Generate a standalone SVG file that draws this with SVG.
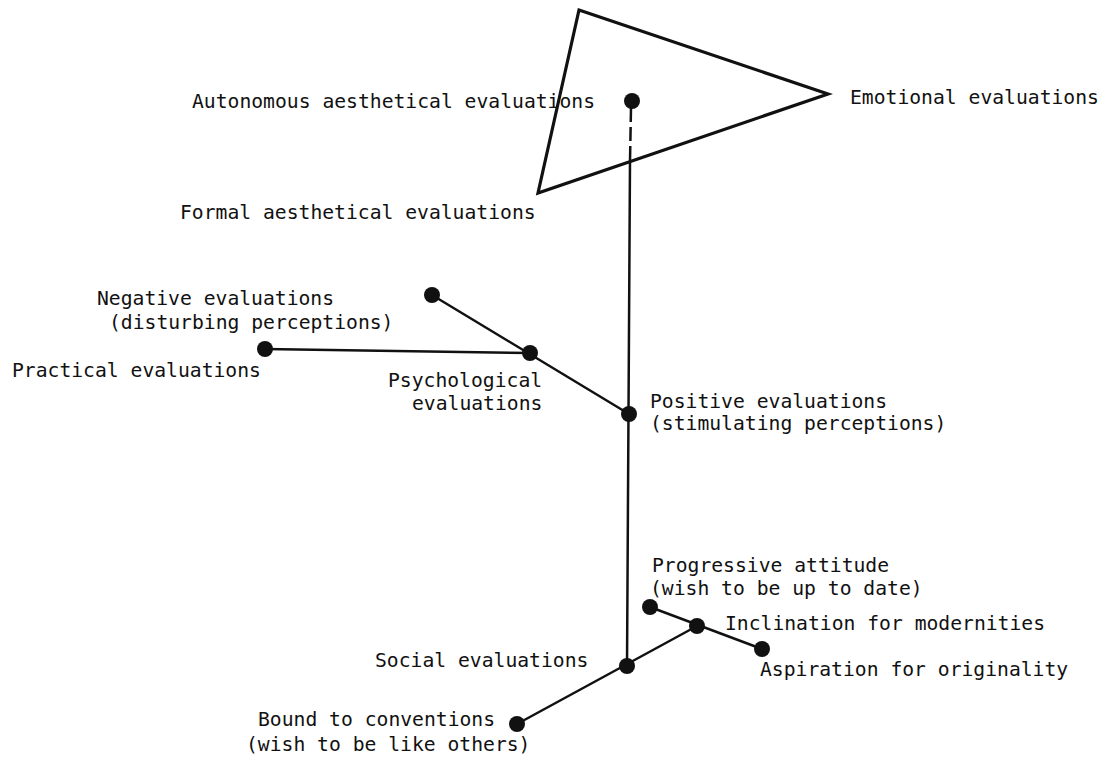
<svg xmlns="http://www.w3.org/2000/svg" width="1113" height="759" viewBox="0 0 1113 759">
  <style>
    text { font-family: "DejaVu Sans Mono", "Liberation Mono", monospace; font-size: 19.7px; fill: #111; }
    .edge { stroke: #111; stroke-width: 2.5; fill: none; stroke-linecap: round; }
    .dash { stroke-dasharray: 14 5; stroke-linecap: butt; }
    .tri { stroke: #111; stroke-width: 3.2; fill: none; stroke-linejoin: miter; }
    .dot { fill: #111; }
  </style>
  <rect width="1113" height="759" fill="#fff"/>

  <!-- triangle of aesthetical evaluations -->
  <g id="triangle">
    <polygon class="tri" points="579,10 828,94 538,193"/>
    <text x="850" y="104">Emotional evaluations</text>
    <text x="180" y="219">Formal aesthetical evaluations</text>
  </g>

  <!-- connectors -->
  <g id="connectors">
    <line class="edge dash" x1="631" y1="108" x2="630" y2="161"/>
    <line class="edge" x1="630" y1="161" x2="627" y2="666"/>
    <line class="edge" x1="432" y1="295" x2="629" y2="414"/>
    <line class="edge" x1="265" y1="349" x2="530" y2="353"/>
    <line class="edge" x1="517" y1="724" x2="697" y2="626"/>
    <line class="edge" x1="650" y1="607" x2="762" y2="649"/>
  </g>

  <g id="autonomous">
    <circle class="dot" cx="632" cy="101" r="8"/>
    <text x="192" y="108">Autonomous aesthetical evaluations</text>
  </g>

  <g id="negative">
    <circle class="dot" cx="432" cy="295" r="8"/>
    <text x="97" y="305">Negative evaluations</text>
    <text x="109" y="329">(disturbing perceptions)</text>
  </g>

  <g id="practical">
    <circle class="dot" cx="265" cy="349" r="8"/>
    <text x="12" y="377">Practical evaluations</text>
  </g>

  <g id="psychological">
    <circle class="dot" cx="530" cy="353" r="8"/>
    <text x="388" y="387">Psychological</text>
    <text x="412" y="410">evaluations</text>
  </g>

  <g id="positive">
    <circle class="dot" cx="629" cy="414" r="8"/>
    <text x="650" y="408">Positive evaluations</text>
    <text x="650" y="430">(stimulating perceptions)</text>
  </g>

  <g id="social">
    <circle class="dot" cx="627" cy="666" r="8"/>
    <text x="375" y="667">Social evaluations</text>
  </g>

  <g id="conventions">
    <circle class="dot" cx="517" cy="724" r="8"/>
    <text x="258" y="726">Bound to conventions</text>
    <text x="246" y="751">(wish to be like others)</text>
  </g>

  <g id="progressive">
    <circle class="dot" cx="650" cy="607" r="8"/>
    <text x="652" y="572">Progressive attitude</text>
    <text x="650" y="595">(wish to be up to date)</text>
  </g>

  <g id="inclination">
    <circle class="dot" cx="697" cy="626" r="8"/>
    <text x="725" y="630">Inclination for modernities</text>
  </g>

  <g id="aspiration">
    <circle class="dot" cx="762" cy="649" r="8"/>
    <text x="760" y="676">Aspiration for originality</text>
  </g>
</svg>
